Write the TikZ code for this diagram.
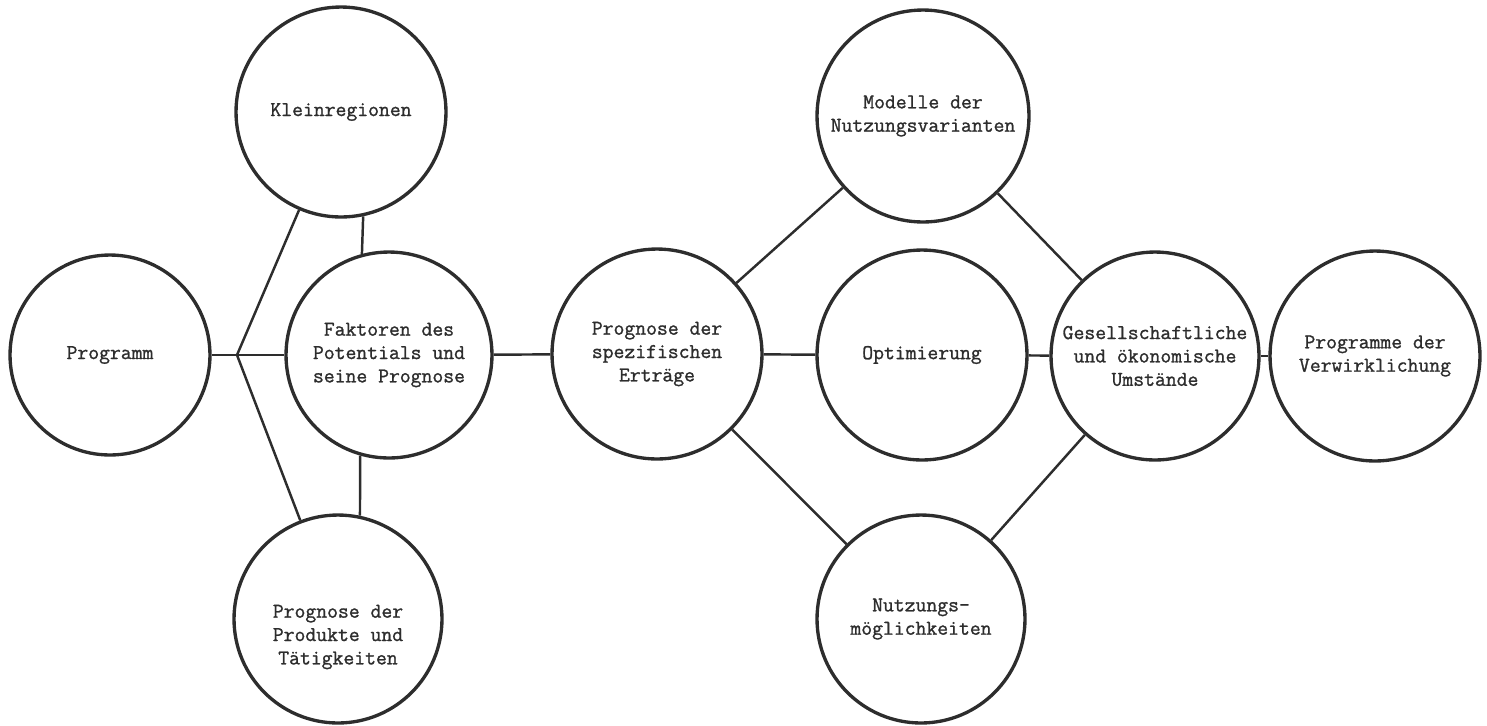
\documentclass[tikz,border=0pt]{standalone}
\usepackage{fontspec}
\newfontfamily\typewr{Latin Modern Mono}[FakeBold=1.2]
\definecolor{ink}{RGB}{45,45,45}
\begin{document}
\begin{tikzpicture}[x=0.02cm,y=-0.02cm,
  txt/.style={font=\typewr\fontsize{12}{13.3}\selectfont, text=ink, align=center},
  bub/.style={circle, draw=ink, line width=1.9pt, inner sep=0pt, txt},
  link/.style={draw=ink, line width=1.4pt}]
\useasboundingbox (0,0) rectangle (1487,725);
\node[bub, minimum size=4.0cm]  (prog) at (110,355) {Programm};
\node[bub, minimum size=4.2cm]  (klein) at (341,112) {Kleinregionen};
\node[bub, minimum size=4.12cm] (fak) at (389,355) {Faktoren des\\Potentials und\\seine Prognose};
\node[bub, minimum size=4.16cm, label={[name=prodtext, txt, yshift=-0.36cm]center:{Prognose der\\Produkte und\\Tätigkeiten}}] (prod) at (338,619) {};
\node[bub, minimum size=4.2cm]  (ertr) at (657,354) {Prognose der\\spezifischen\\Erträge};
\node[bub, minimum size=4.24cm] (mod) at (923,116) {Modelle der\\Nutzungsvarianten};
\node[bub, minimum size=4.2cm]  (opt) at (922,355) {Optimierung};
\node[bub, minimum size=4.16cm] (nutz) at (921,619) {Nutzungs-\\möglichkeiten};
\node[bub, minimum size=4.16cm] (ges) at (1155,356) {Gesellschaftliche\\und ökonomische\\Umstände};
\node[bub, minimum size=4.2cm]  (verw) at (1375,356) {Programme der\\Verwirklichung};
\coordinate (j) at (237,355);
\draw[link] (prog) -- (fak);
\draw[link] (j) -- (klein);
\draw[link] (j) -- (prod);
\draw[link] (klein.-78.5) -- (fak.105);
\draw[link] (fak.-106) -- (prod.78);
\draw[link] (fak) -- (ertr);
\draw[link] (ertr) -- (mod);
\draw[link] (ertr) -- (opt);
\draw[link] (ertr) -- (nutz);
\draw[link] (mod) -- (ges);
\draw[link] (opt) -- (ges);
\draw[link] (nutz) -- (ges);
\draw[link] (ges) -- (verw);
\end{tikzpicture}
\end{document}
